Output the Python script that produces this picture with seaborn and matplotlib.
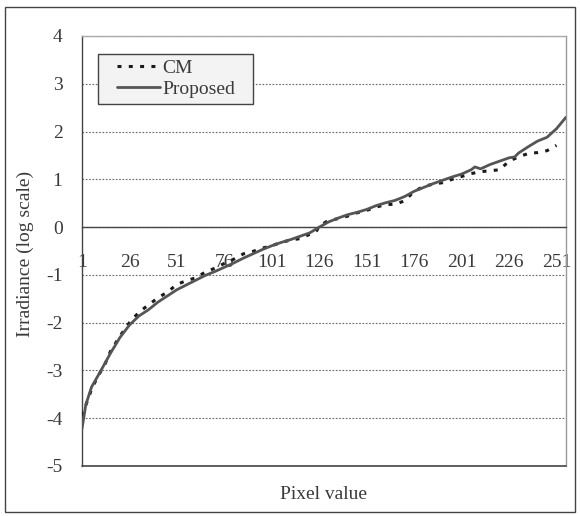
"""
Camera response curve: CM vs Proposed (irradiance on log scale per pixel value).
"""

import matplotlib.pyplot as plt
import seaborn as sns
from matplotlib.patches import Rectangle

# Values
pixel_proposed = [1, 3, 6, 11, 16, 21, 26, 31, 36, 41, 46, 51, 56, 61, 66, 71, 76, 81,
                  86, 91, 96, 101, 106, 111, 116, 121, 126, 131, 136, 141, 146, 151, 156,
                  161, 166, 171, 176, 181, 186, 191, 196, 201, 206, 208, 211, 216, 221,
                  226, 229, 231, 236, 241, 246, 251, 256]
irr_proposed = [-4.22, -3.72, -3.35, -3.0, -2.64, -2.31, -2.05, -1.86, -1.73, -1.57,
                -1.44, -1.31, -1.21, -1.11, -1.01, -0.93, -0.84, -0.75, -0.65, -0.56,
                -0.47, -0.39, -0.32, -0.26, -0.19, -0.12, 0.0, 0.11, 0.19, 0.26, 0.31,
                0.37, 0.45, 0.51, 0.56, 0.64, 0.75, 0.83, 0.91, 0.98, 1.05, 1.11, 1.2,
                1.26, 1.22, 1.31, 1.38, 1.45, 1.47, 1.55, 1.68, 1.8, 1.88, 2.06, 2.3]

pixel_cm = [1, 6, 9, 13, 16, 21, 26, 31, 36, 41, 46, 51, 56, 61, 66, 71, 76, 81, 86,
            91, 96, 101, 106, 111, 116, 121, 124, 126, 130, 136, 141, 146, 151, 156,
            161, 166, 171, 176, 181, 186, 191, 196, 201, 206, 211, 216, 221, 226, 231,
            236, 241, 246, 251]
irr_cm = [-3.95, -3.4, -3.15, -2.88, -2.6, -2.28, -2.0, -1.78, -1.63, -1.48, -1.36,
          -1.2, -1.12, -1.06, -0.94, -0.86, -0.76, -0.67, -0.56, -0.51, -0.44, -0.39,
          -0.32, -0.27, -0.24, -0.15, -0.12, 0.02, 0.12, 0.18, 0.23, 0.3, 0.35, 0.42,
          0.47, 0.48, 0.55, 0.75, 0.85, 0.9, 0.93, 1.0, 1.06, 1.12, 1.16, 1.18, 1.2,
          1.38, 1.47, 1.54, 1.56, 1.6, 1.71]

x_ticks = [1, 26, 51, 76, 101, 126, 151, 176, 201, 226, 251]
y_ticks = [-5, -4, -3, -2, -1, 0, 1, 2, 3, 4]

sns.set_style("white")
plt.rcParams["font.family"] = ["Liberation Serif", "DejaVu Serif"]
plt.rcParams["axes.unicode_minus"] = False

text_color = "#3a3a3a"
axis_color = "#444444"
font_size = 14

fig = plt.figure(figsize=(5.8, 5.16), dpi=100)
ax = fig.add_axes([82 / 580, 1 - 466 / 516, 484 / 580, 430 / 516])

# Outer chart border
fig.patches.append(Rectangle((5 / 580, 4 / 516), 570 / 580, 505 / 516,
                             transform=fig.transFigure, fill=False,
                             edgecolor=axis_color, linewidth=1.0))

sns.lineplot(x=pixel_cm, y=irr_cm, ax=ax, color="#1a1a1a", linewidth=2.2,
             linestyle=(0, (1.3, 2.4)), label="CM", zorder=3)
sns.lineplot(x=pixel_proposed, y=irr_proposed, ax=ax, color="#555555",
             linewidth=2.0, label="Proposed", zorder=4)

ax.set_xlim(1, 256)
ax.set_ylim(-5, 4)
ax.set_xticks(x_ticks)
ax.set_yticks(y_ticks)
ax.set_xlabel("")
ax.set_ylabel("")

# Horizontal dotted gridlines
ax.yaxis.grid(True, color="#666666", linestyle=(0, (1.5, 1.5)), linewidth=0.8)
ax.xaxis.grid(False)
ax.set_axisbelow(True)

# x axis crosses at zero, ticks point upward
ax.spines["bottom"].set_position(("data", 0))
ax.spines["bottom"].set_color(axis_color)
ax.spines["left"].set_color(axis_color)
ax.spines["top"].set_color("#aaaaaa")
ax.spines["right"].set_color("#999999")
for s in ax.spines.values():
    s.set_linewidth(1.0)
ax.axhline(-5, color=axis_color, linewidth=1.2, clip_on=False, zorder=5)

ax.tick_params(axis="x", direction="in", length=5, width=1, color=axis_color,
               pad=19, labelsize=font_size, labelcolor=text_color)
ax.tick_params(axis="y", length=0, pad=14, labelsize=font_size, labelcolor=text_color)

ax.text(0.5, -0.067, "Pixel value", transform=ax.transAxes, ha="center",
        va="center", fontsize=font_size, color=text_color)
fig.text(25 / 580, 1 - 254 / 516, "Irradiance (log scale)", rotation=90,
         ha="center", va="center", fontsize=font_size, color=text_color)

# Legend box drawn separately so it can be wider than the entries
ax.add_patch(Rectangle((16 / 484, 362 / 430), 155 / 484, 50 / 430,
                       transform=ax.transAxes, facecolor="#f2f3f2",
                       edgecolor=axis_color, linewidth=1.0, zorder=6))
leg = ax.legend(loc="upper left", bbox_to_anchor=(35 / 484, 407 / 430),
                fontsize=font_size, frameon=False, handlelength=2.2,
                handletextpad=0.15, labelspacing=0.2, borderpad=0, borderaxespad=0)
leg.set_zorder(7)
for t in leg.get_texts():
    t.set_color(text_color)

fig.savefig("out.png", dpi=100)
plt.close(fig)
